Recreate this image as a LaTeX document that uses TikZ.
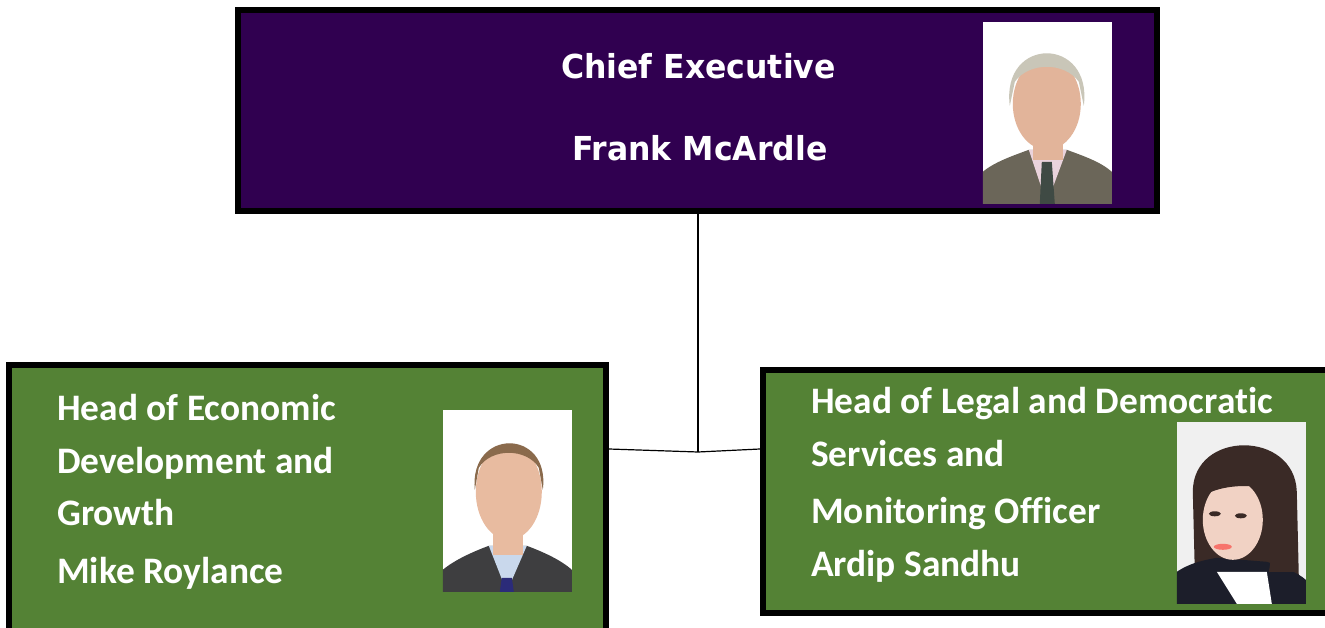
\documentclass[tikz,border=0pt]{standalone}
\usepackage{fontspec}
\setmainfont{Carlito}[Ligatures=NoCommon]
\newfontfamily\tahoma[FakeStretch=0.955]{DejaVu Sans}
\definecolor{ceopurple}{HTML}{300050}
\definecolor{headgreen}{HTML}{548235}
\definecolor{skinA}{HTML}{E2B49A}
\definecolor{skinB}{HTML}{E8BBA0}
\definecolor{skinC}{HTML}{F1D2C4}
\definecolor{greyhair}{HTML}{C9C6B8}
\definecolor{brownhair}{HTML}{8A6A4C}
\definecolor{darkhair}{HTML}{3A2A26}
\definecolor{greysuit}{HTML}{6B6659}
\definecolor{darksuit}{HTML}{3E3E40}
\definecolor{blacksuit}{HTML}{1C1E2A}
\definecolor{pinkshirt}{HTML}{EAD3DC}
\definecolor{blueshirt}{HTML}{C9D8EC}
\definecolor{tiecol}{HTML}{3F4A44}
\tikzset{
  x=1pt, y=-1pt,
  ceobox/.style={draw=black, line width=6pt, fill=ceopurple, rectangle, minimum width=919pt, minimum height=201pt, inner sep=0pt},
  headbox/.style={draw=black, line width=6pt, fill=headgreen, rectangle, inner sep=0pt},
  photo/.style={fill=white, rectangle, minimum width=129pt, minimum height=182pt, inner sep=0pt},
  ceotext/.style={text=white, anchor=base west, inner sep=0pt, font=\tahoma\bfseries\fontsize{33}{36}\selectfont},
  headtext/.style={text=white, anchor=base west, inner sep=0pt, font=\bfseries\fontsize{37.4}{40}\selectfont},
  link/.style={draw=black, line width=1.2pt}
}
\begin{document}
\begin{tikzpicture}
\useasboundingbox (0,0) rectangle (1325,628);
\clip (0,0) rectangle (1325,628);
\fill[white] (0,0) rectangle (1325,628);

% boxes
\node[ceobox] (ceo) at (697.5,110.5) {};
\node[headbox, minimum width=597pt, minimum height=295pt] (econ) at (307.5,512.5) {};
\node[headbox, minimum width=577pt, minimum height=243pt] (legal) at (1051.5,491.5) {};

% connectors
\coordinate (jn) at (698,452);
\coordinate (lh) at (0,449);
\draw[link] (ceo.south -| jn) -- (jn);
\draw[link] (econ.east |- lh) -- (jn) -- (legal.west |- lh);

% texts
\node[ceotext] (t1) at (561,79) {Chief Executive};
\node[ceotext] (t2) at (572,161) {Frank McArdle};

\node[headtext] (e1) at (57,420) {Head of Economic};
\node[headtext] (e2) at (57,473) {Development and};
\node[headtext] (e3) at (57,525) {Growth};
\node[headtext] (e4) at (57,583) {Mike Roylance};

\node[headtext] (l1) at (811,413) {Head of Legal and Democratic};
\node[headtext] (l2) at (811,466) {Services and};
\node[headtext] (l3) at (811,523) {Monitoring Officer};
\node[headtext] (l4) at (811,576) {Ardip Sandhu};

% photos
\node[photo] (p1) at (1047.5,113) {};
\node[photo] (p2) at (507.5,501) {};
\node[photo, fill=white!94!black] (p3) at (1241.5,513) {};

% portrait 1: Frank
\begin{scope}[shift={(p1.north west)}]
  \clip (0,0) rectangle (129,182);
  \fill[greysuit] (0,182) -- (0,150) .. controls (12,140) and (30,134) .. (46,128) -- (84,128) .. controls (100,134) and (118,140) .. (129,150) -- (129,182) -- cycle;
  \fill[pinkshirt] (46,128) -- (64,182) -- (84,128) -- cycle;
  \fill[tiecol] (59,140) -- (69,140) -- (72,182) -- (57,182) -- cycle;
  \fill[skinA] (50,105) rectangle (80,138);
  \fill[skinA] (64,82) ellipse (34pt and 46pt);
  \fill[greyhair] (27,84) .. controls (18,14) and (110,14) .. (101,84) -- (96,60) .. controls (82,40) and (46,40) .. (32,60) -- cycle;
\end{scope}

% portrait 2: Mike
\begin{scope}[shift={(p2.north west)}]
  \clip (0,0) rectangle (129,182);
  \fill[darksuit] (0,182) -- (0,160) .. controls (12,150) and (30,142) .. (46,136) -- (84,136) .. controls (100,142) and (118,150) .. (129,160) -- (129,182) -- cycle;
  \fill[blueshirt] (46,136) -- (64,182) -- (84,136) -- cycle;
  \fill[darksuit!70!blue] (59,168) -- (69,168) -- (71,182) -- (57,182) -- cycle;
  \fill[skinB] (50,110) rectangle (80,145);
  \fill[skinB] (66,82) ellipse (33pt and 48pt);
  \fill[brownhair] (32,80) .. controls (26,18) and (108,18) .. (100,80) -- (96,58) .. controls (84,38) and (48,38) .. (36,58) -- cycle;
\end{scope}

% portrait 3: Ardip
\begin{scope}[shift={(p3.north west)}]
  \clip (0,0) rectangle (129,182);
  \fill[darkhair] (18,150) -- (16,70) .. controls (16,8) and (118,8) .. (120,70) -- (122,155) -- cycle;
  \fill[blacksuit] (0,182) -- (0,150) .. controls (15,140) and (30,138) .. (40,136) -- (90,140) .. controls (105,145) and (120,150) .. (129,158) -- (129,182) -- cycle;
  \fill[white] (40,150) -- (60,182) -- (95,182) -- (90,150) -- cycle;
  \fill[skinC] (56,98) ellipse (30pt and 40pt);
  \fill[darkhair] (24,90) .. controls (22,30) and (105,25) .. (110,90) -- (104,70) .. controls (80,62) and (50,62) .. (30,72) -- cycle;
  \fill[darkhair] (82,68) .. controls (98,90) and (96,130) .. (92,150) -- (118,150) -- (112,70) -- cycle;
  \fill[red!45!skinC] (46,125) ellipse (9pt and 3pt);
  \fill[darkhair] (38,92) ellipse (6pt and 2.5pt);
  \fill[darkhair] (64,94) ellipse (6pt and 2.5pt);
\end{scope}
\end{tikzpicture}
\end{document}
